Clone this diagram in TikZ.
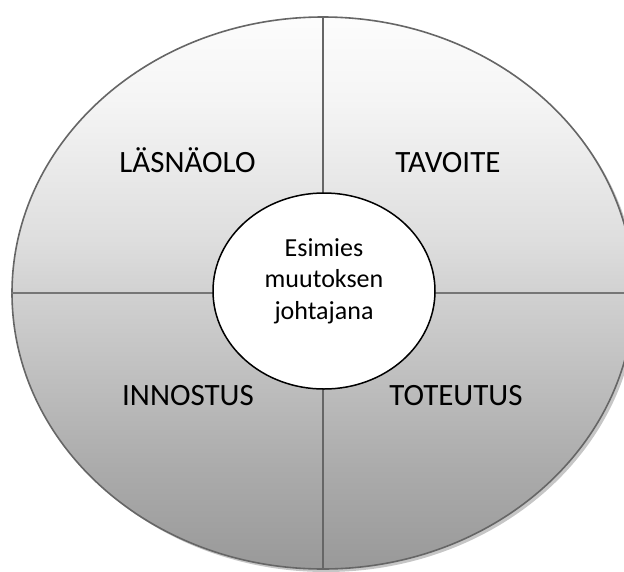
\documentclass[tikz,border=0pt]{standalone}
\usepackage{fontspec}
\setmainfont{Carlito}
\usetikzlibrary{shapes.geometric}

\definecolor{rimgray}{HTML}{666666}
\definecolor{splitgray}{HTML}{767676}
\definecolor{shadowgray}{HTML}{C6C6C6}

% vertical grey ramp for the disc (path box maps to 25bp..75bp)
\pgfdeclareverticalshading{discramp}{100bp}{%
  color(0bp)=(black!40);
  color(25bp)=(black!40);
  color(34bp)=(black!33);
  color(50bp)=(black!18);
  color(54.8bp)=(black!13);
  color(67.5bp)=(black!4);
  color(75bp)=(black!1);
  color(100bp)=(black!1)}

\tikzset{
  quarterlabel/.style={font=\fontsize{31}{37}\selectfont, anchor=base, inner sep=0pt},
  corelabel/.style={font=\fontsize{26}{31.7}\selectfont, align=center, inner sep=0pt},
  divider/.style={draw=rimgray, line width=1.3pt},
}

\begin{document}
\begin{tikzpicture}[x=1pt,y=-1pt]
  \useasboundingbox (0,0) rectangle (624,571);
  \clip (0,0) rectangle (624,571);

  % drop shadow and shaded disc
  \fill[shadowgray] (326,296) ellipse [x radius=311, y radius=276];
  \node (disc) [ellipse, shading=discramp, draw=rimgray, line width=1.6pt,
                minimum width=622pt, minimum height=552pt, inner sep=0pt]
        at (323,293) {};

  % quadrant dividers
  \draw[divider] (disc.north) -- (disc.south);
  \draw[draw=splitgray, line width=2pt] (disc.west) -- (disc.east);

  % central ellipse
  \node (core) [ellipse, draw=black, line width=1.5pt, fill=white,
                minimum width=222pt, minimum height=196pt, inner sep=0pt]
        at (324,291) {};
  \node (coretext) [corelabel] at (324,281) {Esimies\\muutoksen\\johtajana};

  % quadrant titles
  \node (lasnaolo) [quarterlabel] at (187.5,172) {LÄSNÄOLO};
  \node (tavoite)  [quarterlabel] at (448,172)   {TAVOITE};
  \node (innostus) [quarterlabel] at (188,405)   {INNOSTUS};
  \node (toteutus) [quarterlabel] at (456,405)   {TOTEUTUS};
\end{tikzpicture}
\end{document}
